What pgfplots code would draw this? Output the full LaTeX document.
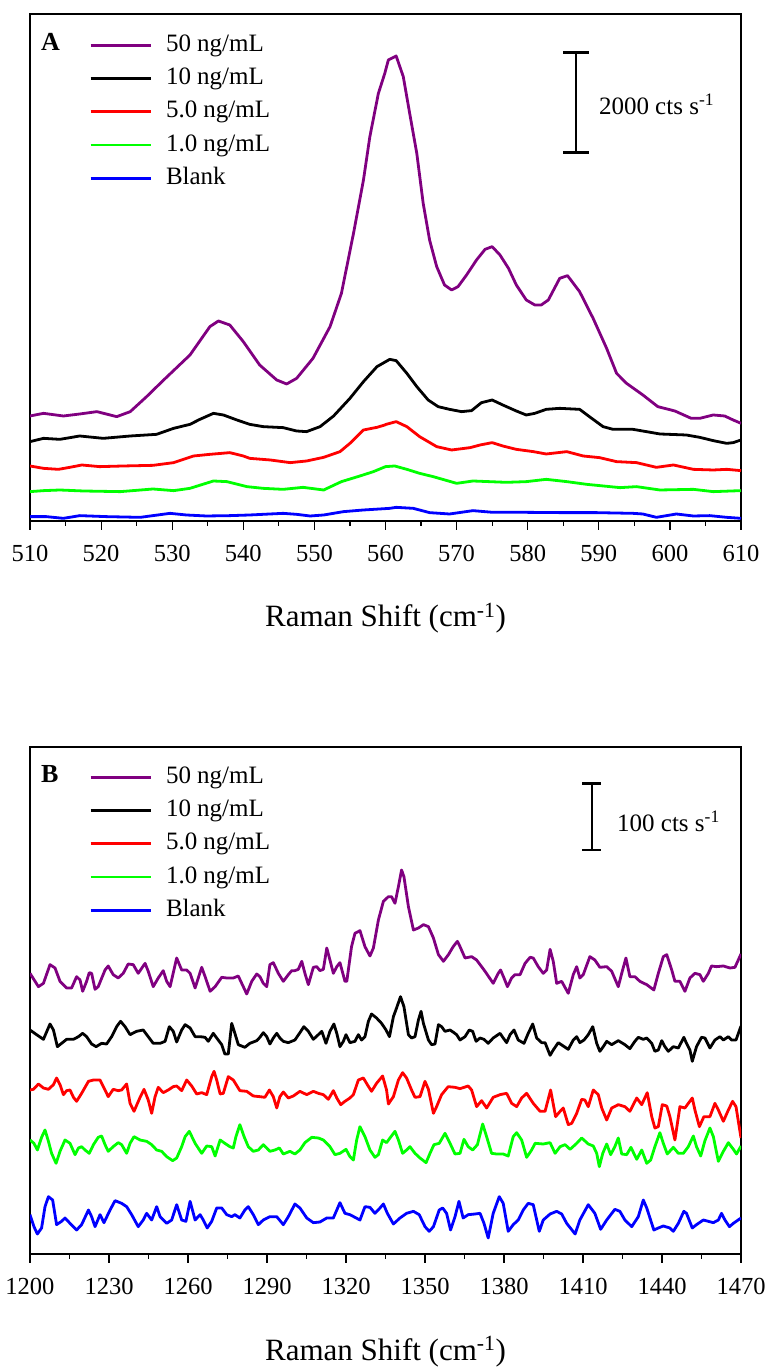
\documentclass[border=0pt]{standalone}
\usepackage{fontspec}
\setmainfont{Liberation Serif}
\usepackage{pgfplots}
\pgfplotsset{compat=1.18}
\definecolor{cpurple}{RGB}{128,0,128}
\definecolor{cgreen}{RGB}{0,255,0}
\definecolor{cblue}{RGB}{0,0,255}
\definecolor{cred}{RGB}{255,0,0}
\newcommand\legfont{\fontsize{25pt}{30pt}\selectfont}
\pgfplotsset{
  spec/.style={
    scale only axis, width=711pt, height=507pt,
    anchor=south west,
    axis line style={line width=1.2pt},
    tick style={line width=1.2pt, black},
    tick align=outside,
    xtick pos=bottom,
    ytick pos=both,
    major tick length=9pt, minor tick length=5pt,
    minor x tick num=1,
    ytick=\empty,
    /pgf/number format/assume math mode=true,
    /pgf/number format/1000 sep={},
    ticklabel style={font=\fontsize{24.5pt}{29pt}\selectfont},
    xticklabel style={yshift=-12pt},
    xlabel={Raman Shift (cm\textsuperscript{-1})},
    xlabel style={font=\fontsize{31pt}{36pt}\selectfont, at={(axis description cs:0.5,0)}, anchor=base, yshift=-106pt},
    every axis plot post/.append style={line width=2.8pt, line join=round},
    legend image code/.code={\draw[#1, line width=2.8pt] (0pt,0pt) -- (60pt,0pt);},
    legend cell align=left,
    legend style={draw=none, fill=none, inner sep=0pt, column sep=14pt, row sep=9.3pt,
      font=\legfont,
      nodes={inner sep=0pt, text height=18pt, text depth=6pt, font=\legfont},
      anchor=north west},
  }
}
\begin{document}
\begin{tikzpicture}
\useasboundingbox (0pt,0pt) rectangle (765pt,1367pt);
% ---------------- Panel A ----------------
\begin{axis}[spec, at={(30pt,846pt)},
  xmin=510, xmax=610, ymin=0, ymax=10140,
  xtick={510,520,...,610},
  minor ytick={2060,4060,6060,8060},
  legend style={at={(rel axis cs:0.083,0.9625)}}]
\addplot[cpurple] coordinates {
(510.0,2100)(511.9,2153)(514.7,2100)(517.0,2140)(519.4,2187)(522.2,2087)(524.1,2187)(526.4,2487)(528.8,2820)(532.5,3320)(535.3,3887)(536.5,4000)(538.1,3920)(540.0,3587)(542.3,3120)(544.7,2820)(546.1,2740)(547.5,2853)(549.8,3253)(552.2,3887)(553.8,4553)(555.5,5753)(556.9,6820)(557.8,7687)(559.0,8553)(559.9,8953)(560.4,9220)(561.5,9300)(562.5,8887)(563.4,8153)(564.4,7353)(565.3,6353)(566.2,5620)(567.2,5087)(568.3,4720)(569.3,4620)(570.2,4687)(571.4,4920)(572.8,5220)(574.0,5433)(575.0,5487)(576.1,5320)(577.3,5053)(578.4,4720)(579.8,4420)(581.0,4320)(581.9,4320)(582.9,4420)(584.5,4853)(585.6,4907)(587.3,4587)(589.2,4053)(591.1,3453)(592.5,2953)(593.9,2753)(596.2,2520)(598.3,2287)(600.7,2200)(603.0,2053)(604.2,2053)(606.1,2120)(607.7,2100)(608.9,2020)(610.0,1953)};
\addlegendentry{50 ng/mL}
\addplot[black] coordinates {
(510.0,1587)(511.9,1653)(514.2,1633)(517.0,1700)(520.3,1653)(524.1,1700)(527.8,1733)(530.2,1853)(532.5,1933)(533.9,2033)(535.8,2153)(537.2,2120)(539.1,2020)(540.9,1933)(542.8,1887)(545.6,1867)(547.5,1800)(548.9,1787)(550.8,1887)(552.7,2100)(555.0,2453)(556.9,2787)(558.8,3087)(560.6,3233)(561.5,3207)(563.0,2953)(564.4,2687)(566.0,2420)(567.4,2287)(569.0,2233)(570.7,2187)(572.1,2207)(573.5,2367)(575.0,2420)(576.5,2320)(578.4,2200)(579.8,2120)(581.0,2153)(582.6,2233)(584.5,2253)(587.3,2233)(589.0,2053)(590.6,1887)(592.0,1833)(594.8,1833)(596.7,1787)(598.6,1740)(602.3,1720)(604.2,1673)(606.1,1607)(608.0,1553)(608.9,1567)(610.0,1620)};
\addlegendentry{10 ng/mL}
\addplot[cred] coordinates {
(510.0,1100)(511.9,1053)(514.0,1033)(515.6,1073)(517.3,1120)(519.8,1087)(523.1,1100)(527.3,1113)(530.2,1167)(533.0,1300)(535.3,1333)(538.1,1367)(540.0,1300)(540.9,1253)(543.8,1220)(546.6,1167)(548.9,1200)(551.3,1273)(553.6,1387)(555.0,1553)(556.9,1820)(558.8,1873)(559.9,1920)(560.1,1933)(561.5,1987)(563.0,1887)(564.8,1687)(567.2,1487)(569.3,1420)(571.9,1467)(573.3,1520)(575.0,1567)(576.5,1500)(578.4,1433)(580.8,1387)(582.6,1340)(585.5,1387)(587.8,1300)(590.1,1267)(592.5,1187)(595.3,1167)(598.1,1073)(600.5,1120)(603.3,1033)(606.1,1020)(608.0,1033)(610.0,1007)};
\addlegendentry{5.0 ng/mL}
\addplot[cgreen] coordinates {
(510.0,587)(511.9,607)(514.2,620)(517.5,600)(522.7,587)(527.3,640)(530.2,607)(532.5,653)(535.8,800)(537.7,787)(540.5,687)(542.8,653)(545.6,633)(548.4,673)(551.3,620)(553.8,787)(556.4,900)(558.3,987)(560.0,1087)(561.3,1100)(563.0,1033)(564.8,953)(566.7,887)(570.0,753)(572.3,800)(577.0,773)(579.8,787)(582.6,833)(585.5,787)(588.3,733)(593.0,667)(595.3,687)(598.6,620)(603.3,633)(606.1,587)(610.0,607)};
\addlegendentry{1.0 ng/mL}
\addplot[cblue] coordinates {
(510.0,87)(512.3,87)(514.7,53)(517.0,107)(520.8,87)(525.5,73)(529.7,153)(532.0,120)(534.8,100)(538.1,107)(540.9,120)(545.6,153)(547.5,133)(549.4,100)(551.3,120)(554.1,187)(556.9,220)(560.6,253)(561.5,273)(563.9,253)(566.2,167)(569.0,140)(572.3,207)(575.1,173)(579.8,173)(585.0,167)(589.7,167)(594.8,153)(596.2,140)(598.1,73)(600.9,140)(603.3,100)(605.6,107)(608.0,73)(610.0,53)};
\addlegendentry{Blank}
\node[anchor=base west, inner sep=0pt, font=\fontsize{26pt}{30pt}\selectfont\bfseries] at (rel axis cs:0.0155,0.927) {A};
\draw[line width=2.8pt] (axis cs:586.8,7370) -- (axis cs:586.8,9370);
\draw[line width=2.8pt] (axis cs:585.0,7370) -- (axis cs:588.6,7370);
\draw[line width=2.8pt] (axis cs:585.0,9370) -- (axis cs:588.6,9370);
\node[anchor=base west, inner sep=0pt, font=\legfont] at (axis cs:590.0,8120) {2000 cts s\textsuperscript{-1}};
\end{axis}
% ---------------- Panel B ----------------
\begin{axis}[spec, at={(30pt,113pt)},
  xmin=1200, xmax=1470, ymin=0, ymax=760.5,
  xtick={1200,1230,...,1470},
  minor ytick={58,158,258,358,458,558,658},
  legend style={at={(rel axis cs:0.083,0.9645)}}]
\addplot[cpurple] coordinates {
(1200.0,421)(1203.2,401)(1205.1,406)(1207.6,434)(1209.5,429)(1211.4,409)(1213.9,399)(1215.8,399)(1217.7,416)(1219.0,411)(1220.0,394)(1221.5,409)(1222.5,422)(1223.4,421)(1224.7,397)(1225.9,401)(1228.5,426)(1229.7,432)(1231.6,419)(1233.5,414)(1235.4,421)(1237.3,435)(1239.2,434)(1241.1,421)(1243.7,436)(1244.9,424)(1246.8,401)(1248.7,414)(1250.6,425)(1251.9,409)(1253.2,401)(1255.7,444)(1257.6,426)(1259.5,426)(1260.8,421)(1262.7,399)(1265.2,430)(1266.5,416)(1268.4,394)(1270.3,401)(1272.8,415)(1274.7,414)(1277.2,414)(1279.1,417)(1280.4,406)(1282.3,390)(1284.2,409)(1286.1,420)(1287.3,416)(1288.6,406)(1289.9,401)(1291.1,434)(1292.4,437)(1294.3,421)(1296.2,409)(1298.1,419)(1299.4,425)(1300.6,425)(1301.9,427)(1303.2,439)(1304.4,421)(1305.7,404)(1307.6,430)(1308.9,431)(1310.1,425)(1311.4,427)(1312.7,459)(1313.9,441)(1315.2,421)(1316.5,431)(1317.7,437)(1319.6,409)(1320.3,409)(1322.1,461)(1323.4,481)(1325.3,485)(1327.2,461)(1329.1,447)(1330.4,459)(1332.3,501)(1334.2,529)(1336.1,536)(1337.3,536)(1338.6,526)(1339.9,551)(1341.1,576)(1342.0,566)(1343.7,521)(1345.6,486)(1347.5,489)(1349.4,494)(1351.3,491)(1353.2,474)(1355.1,449)(1357.0,439)(1358.9,449)(1360.7,461)(1362.3,469)(1363.3,461)(1365.2,444)(1367.7,446)(1369.6,441)(1372.8,424)(1375.9,406)(1377.8,421)(1378.7,426)(1380.0,414)(1381.3,401)(1382.9,414)(1384.2,419)(1386.1,419)(1388.0,436)(1389.9,445)(1391.1,444)(1393.0,431)(1394.9,421)(1396.2,426)(1397.5,457)(1398.7,439)(1400.0,406)(1401.9,409)(1404.4,391)(1406.3,419)(1407.6,431)(1408.8,414)(1410.1,419)(1412.6,446)(1414.5,441)(1416.4,430)(1419.0,431)(1420.9,424)(1423.4,401)(1424.7,421)(1426.3,444)(1427.8,416)(1429.7,416)(1431.6,409)(1434.2,404)(1436.9,396)(1438.6,421)(1440.5,446)(1441.8,449)(1443.7,426)(1444.9,409)(1446.8,409)(1448.7,394)(1450.6,414)(1452.5,421)(1454.4,419)(1455.7,409)(1457.6,421)(1458.8,432)(1460.7,431)(1463.3,432)(1465.8,429)(1467.7,430)(1470.0,450)};
\addlegendentry{50 ng/mL}
\addplot[black] coordinates {
(1200.0,336)(1202.5,329)(1205.1,322)(1207.6,345)(1208.9,336)(1210.4,311)(1212.0,316)(1213.9,322)(1216.5,322)(1218.4,326)(1220.0,331)(1221.5,326)(1223.4,315)(1225.1,311)(1227.2,316)(1229.1,315)(1231.0,326)(1232.9,341)(1234.4,349)(1236.1,341)(1238.0,329)(1240.5,334)(1243.0,336)(1244.9,326)(1246.8,316)(1249.4,316)(1251.3,319)(1252.9,341)(1254.4,334)(1255.7,318)(1257.6,336)(1258.9,344)(1260.8,339)(1262.7,326)(1264.6,326)(1266.5,325)(1267.7,319)(1269.6,331)(1270.9,324)(1272.8,314)(1274.0,300)(1275.3,300)(1276.6,346)(1277.8,331)(1279.1,314)(1281.6,310)(1283.5,316)(1286.1,320)(1287.3,325)(1288.6,332)(1289.9,326)(1291.1,315)(1292.4,324)(1293.7,331)(1294.9,324)(1296.2,319)(1298.1,317)(1300.6,321)(1302.5,332)(1304.0,341)(1305.7,334)(1307.6,322)(1309.5,329)(1310.8,334)(1312.4,316)(1313.9,334)(1315.4,345)(1316.5,331)(1317.7,311)(1319.0,319)(1320.0,329)(1321.5,317)(1323.4,319)(1324.7,329)(1325.9,321)(1327.2,326)(1328.5,349)(1329.7,360)(1331.6,354)(1333.5,346)(1335.2,336)(1336.5,326)(1338.0,356)(1339.2,369)(1340.7,386)(1342.0,371)(1343.7,329)(1344.9,324)(1346.2,326)(1347.5,351)(1348.5,364)(1349.4,346)(1351.3,321)(1352.5,314)(1353.8,315)(1355.1,344)(1356.3,341)(1357.6,334)(1359.5,336)(1361.0,332)(1362.0,329)(1363.3,321)(1365.2,326)(1366.8,336)(1368.1,334)(1369.4,319)(1370.9,324)(1372.4,322)(1374.0,316)(1375.9,324)(1378.5,331)(1379.7,324)(1381.0,317)(1382.3,329)(1383.8,336)(1385.4,321)(1387.6,316)(1389.2,331)(1390.9,345)(1392.4,324)(1394.3,317)(1395.6,317)(1397.5,298)(1398.7,306)(1400.6,317)(1402.5,312)(1404.4,307)(1406.3,321)(1407.6,326)(1408.8,317)(1410.4,321)(1412.0,329)(1413.7,341)(1415.2,316)(1416.4,304)(1417.7,311)(1419.0,319)(1420.9,314)(1423.4,320)(1425.9,314)(1427.8,308)(1429.7,319)(1431.0,325)(1432.9,322)(1434.2,324)(1436.1,316)(1437.3,304)(1438.6,306)(1439.9,320)(1441.1,311)(1442.4,304)(1444.3,311)(1446.2,309)(1448.3,325)(1449.3,316)(1450.6,306)(1451.5,289)(1453.1,311)(1455.0,325)(1456.3,324)(1458.2,309)(1460.1,321)(1462.0,326)(1463.3,321)(1465.2,326)(1466.4,321)(1468.1,321)(1470.0,342)};
\addlegendentry{10 ng/mL}
\addplot[cred] coordinates {
(1200.0,246)(1201.3,247)(1203.2,255)(1205.1,249)(1207.0,247)(1208.9,254)(1210.1,264)(1211.4,254)(1212.7,239)(1213.9,245)(1215.2,246)(1216.5,235)(1217.7,229)(1219.6,241)(1222.2,259)(1224.1,261)(1226.6,261)(1228.5,246)(1229.7,236)(1231.6,247)(1233.5,245)(1234.8,246)(1236.7,255)(1238.0,226)(1239.5,214)(1241.8,235)(1243.3,247)(1244.9,231)(1246.2,211)(1247.5,236)(1248.7,250)(1250.6,242)(1252.5,246)(1254.4,251)(1255.7,252)(1257.6,245)(1259.5,261)(1261.4,252)(1263.3,240)(1265.2,242)(1267.1,239)(1269.0,266)(1269.9,274)(1270.9,261)(1272.2,240)(1273.4,241)(1275.3,266)(1277.2,261)(1279.7,245)(1282.3,244)(1284.8,237)(1287.3,236)(1289.2,235)(1290.9,246)(1292.4,236)(1293.7,219)(1294.9,236)(1296.2,243)(1298.1,234)(1300.0,237)(1302.5,244)(1305.1,239)(1307.6,244)(1309.5,241)(1311.4,239)(1313.3,232)(1315.2,245)(1316.5,234)(1318.0,224)(1319.6,229)(1321.5,234)(1322.8,239)(1324.7,261)(1326.6,264)(1328.1,254)(1329.7,244)(1331.6,256)(1333.9,267)(1335.4,246)(1336.1,225)(1338.0,236)(1339.9,261)(1341.5,272)(1343.0,264)(1344.9,246)(1346.2,235)(1348.1,236)(1350.0,259)(1351.3,247)(1353.2,211)(1354.4,221)(1356.3,239)(1358.8,251)(1361.4,250)(1363.3,248)(1366.4,252)(1367.7,246)(1369.6,221)(1371.5,230)(1373.4,219)(1375.9,235)(1378.5,239)(1381.0,241)(1382.9,226)(1384.8,221)(1386.7,234)(1388.6,241)(1391.1,226)(1393.7,214)(1395.6,214)(1397.7,246)(1399.6,206)(1401.3,214)(1402.5,219)(1404.4,194)(1405.7,196)(1407.6,211)(1409.5,232)(1410.7,231)(1412.0,221)(1413.9,246)(1415.8,239)(1417.1,219)(1419.0,201)(1420.9,219)(1423.4,224)(1425.9,221)(1427.8,214)(1430.4,234)(1432.3,224)(1434.4,242)(1436.1,206)(1437.3,189)(1438.6,191)(1440.1,224)(1441.8,222)(1443.0,206)(1444.9,171)(1446.8,221)(1448.7,219)(1451.5,234)(1452.5,216)(1454.2,191)(1455.9,206)(1458.2,206)(1460.1,226)(1461.4,216)(1463.3,199)(1465.2,216)(1466.8,229)(1468.1,221)(1470.0,174)};
\addlegendentry{5.0 ng/mL}
\addplot[cgreen] coordinates {
(1200.0,171)(1201.5,166)(1202.8,156)(1204.4,175)(1205.7,186)(1207.0,169)(1208.2,151)(1209.9,136)(1211.4,154)(1213.3,171)(1215.2,166)(1217.1,149)(1218.4,159)(1219.6,161)(1220.9,156)(1222.5,151)(1224.1,164)(1225.9,175)(1227.2,177)(1228.5,164)(1229.7,154)(1231.6,161)(1233.5,167)(1234.8,164)(1236.7,151)(1238.0,166)(1239.5,176)(1241.8,171)(1244.3,169)(1246.2,164)(1248.1,156)(1250.0,154)(1251.9,146)(1254.2,140)(1255.7,144)(1257.6,161)(1258.9,176)(1260.5,184)(1262.7,166)(1265.2,151)(1267.1,162)(1269.0,161)(1270.3,147)(1272.2,171)(1274.0,166)(1275.9,161)(1277.2,159)(1278.2,176)(1279.7,194)(1281.3,176)(1282.9,161)(1284.8,154)(1286.7,156)(1288.6,164)(1289.9,159)(1291.1,154)(1293.0,156)(1294.7,159)(1296.2,150)(1298.7,154)(1300.6,150)(1302.5,156)(1304.4,167)(1307.0,175)(1309.5,174)(1311.4,171)(1313.9,161)(1315.8,149)(1317.7,151)(1320.0,157)(1321.5,146)(1322.8,141)(1324.1,172)(1325.3,191)(1327.2,176)(1329.1,156)(1331.0,145)(1332.3,149)(1333.9,171)(1335.4,167)(1336.7,174)(1338.6,184)(1339.9,171)(1341.5,151)(1343.0,156)(1344.3,161)(1346.2,151)(1348.1,144)(1350.4,137)(1351.9,151)(1353.4,164)(1355.4,166)(1357.6,181)(1359.5,166)(1361.4,150)(1363.3,151)(1364.8,172)(1366.4,161)(1368.1,156)(1369.9,164)(1371.9,195)(1373.4,176)(1375.3,151)(1377.2,150)(1379.7,150)(1381.6,147)(1383.5,176)(1384.8,182)(1386.7,171)(1388.6,145)(1390.5,156)(1391.8,166)(1394.9,165)(1397.5,167)(1399.4,151)(1401.3,161)(1403.2,164)(1405.1,157)(1407.6,166)(1409.5,174)(1412.0,165)(1413.9,162)(1415.2,151)(1416.2,131)(1417.5,151)(1419.0,165)(1420.5,149)(1422.1,161)(1423.4,174)(1424.7,150)(1426.6,149)(1428.2,160)(1430.4,142)(1432.3,156)(1434.2,136)(1435.7,141)(1437.3,161)(1439.2,182)(1440.5,166)(1442.0,150)(1444.3,160)(1446.2,151)(1448.1,151)(1450.0,161)(1451.9,177)(1453.1,161)(1454.7,147)(1456.3,170)(1458.2,189)(1459.5,176)(1461.4,139)(1463.3,154)(1465.2,167)(1467.1,157)(1468.3,150)(1470.0,162)};
\addlegendentry{1.0 ng/mL}
\addplot[cblue] coordinates {
(1200.0,59)(1201.5,41)(1202.8,30)(1204.4,39)(1205.7,71)(1207.0,86)(1208.6,81)(1210.1,44)(1212.0,49)(1213.3,54)(1215.2,46)(1217.7,36)(1219.6,44)(1222.2,66)(1223.4,56)(1224.7,41)(1226.6,59)(1228.1,47)(1230.4,66)(1232.3,80)(1234.8,76)(1236.7,71)(1238.6,59)(1241.1,41)(1243.0,51)(1244.3,61)(1246.2,51)(1248.1,71)(1249.4,56)(1251.9,46)(1253.8,51)(1255.7,74)(1257.6,51)(1259.2,49)(1260.8,79)(1262.7,51)(1264.6,59)(1265.8,51)(1267.3,39)(1269.0,49)(1270.9,69)(1272.8,69)(1274.7,59)(1276.6,56)(1277.8,59)(1279.7,54)(1281.6,66)(1282.9,71)(1284.8,59)(1286.7,44)(1288.6,51)(1291.1,56)(1293.7,56)(1296.2,44)(1298.1,56)(1300.6,75)(1302.5,69)(1305.1,54)(1307.6,47)(1310.1,48)(1312.7,54)(1315.2,54)(1317.7,77)(1319.6,61)(1321.5,59)(1323.4,55)(1325.3,51)(1327.2,71)(1329.1,70)(1331.0,61)(1332.9,69)(1334.2,75)(1335.7,61)(1338.0,45)(1340.5,54)(1343.0,61)(1345.6,64)(1347.8,59)(1350.0,41)(1351.6,34)(1353.2,41)(1355.4,66)(1356.7,69)(1358.2,61)(1359.7,36)(1361.4,56)(1362.9,79)(1364.5,54)(1366.4,59)(1369.0,60)(1370.9,61)(1372.4,46)(1374.0,24)(1375.9,61)(1378.2,86)(1379.7,76)(1381.6,34)(1383.5,44)(1385.4,51)(1387.3,66)(1389.2,76)(1391.1,74)(1393.4,34)(1394.9,51)(1397.5,60)(1400.0,64)(1401.9,60)(1403.8,46)(1407.0,30)(1408.8,51)(1412.0,74)(1414.5,61)(1416.7,37)(1419.0,51)(1422.1,67)(1424.0,64)(1425.9,51)(1428.5,41)(1431.0,56)(1432.9,81)(1434.2,69)(1436.9,36)(1438.6,39)(1440.5,42)(1443.0,39)(1444.3,34)(1446.2,46)(1448.3,64)(1449.3,61)(1451.5,39)(1453.1,44)(1455.7,51)(1457.6,49)(1459.5,47)(1461.4,51)(1462.6,61)(1463.9,51)(1465.6,41)(1467.1,46)(1470.0,54)};
\addlegendentry{Blank}
\node[anchor=base west, inner sep=0pt, font=\fontsize{26pt}{30pt}\selectfont\bfseries] at (rel axis cs:0.0155,0.929) {B};
\draw[line width=2.8pt] (axis cs:1413.4,606) -- (axis cs:1413.4,706);
\draw[line width=2.8pt] (axis cs:1409.8,606) -- (axis cs:1417.0,606);
\draw[line width=2.8pt] (axis cs:1409.8,706) -- (axis cs:1417.0,706);
\node[anchor=base west, inner sep=0pt, font=\legfont] at (axis cs:1422.9,633) {100 cts s\textsuperscript{-1}};
\end{axis}
\end{tikzpicture}
\end{document}
